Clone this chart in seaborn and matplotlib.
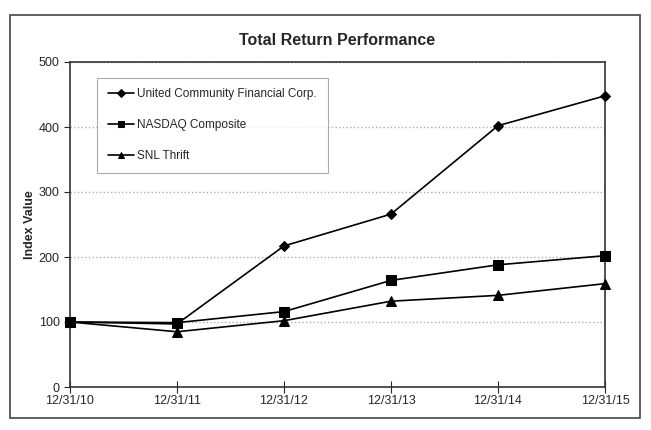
import matplotlib
matplotlib.use("Agg")
import matplotlib.pyplot as plt
import seaborn as sns
import pandas as pd
from matplotlib.patches import Rectangle

dates = ["12/31/10", "12/31/11", "12/31/12", "12/31/13", "12/31/14", "12/31/15"]
ucfc = [100, 97, 217, 266, 402, 448]
nasdaq = [100, 99, 116, 164, 188, 202]
snl = [100, 85, 102, 132, 141, 159]

names = ["United Community Financial Corp.", "NASDAQ Composite", "SNL Thrift"]
markers = ["D", "s", "^"]
sizes = [5, 7, 7]

df = pd.DataFrame({"date": dates * 3,
                   "value": ucfc + nasdaq + snl,
                   "series": [n for n in names for _ in dates]})
df["x"] = list(range(len(dates))) * 3

sns.set_style("white")
plt.rcParams["font.family"] = ["Liberation Sans", "DejaVu Sans"]

fig = plt.figure(figsize=(6.51, 4.30), dpi=100)
ax = fig.add_axes([70 / 651, 43 / 430, 535 / 651, 325 / 430])

for name, m, s in zip(names, markers, sizes):
    sub = df[df["series"] == name]
    sns.lineplot(data=sub, x="x", y="value", ax=ax, color="black", lw=1.2,
                 marker=m, markersize=s, markeredgecolor="black", label=name,
                 clip_on=False, zorder=3)

ax.set_xlim(0, 5)
ax.set_ylim(0, 500)
ax.set_xticks(range(len(dates)))
ax.set_xticklabels(dates, fontsize=9)
ax.set_yticks(range(0, 501, 100))
ax.tick_params(axis="y", labelsize=9, length=4, direction="out", left=True, width=0.8)
ax.tick_params(axis="x", length=8, direction="inout", bottom=True, width=0.8, pad=2)
ax.yaxis.grid(True, color="#b0b0b0", linestyle=":", linewidth=1)
ax.set_axisbelow(True)
for sp in ax.spines.values():
    sp.set_color("#333333")
    sp.set_linewidth(1.2)
ax.set_xlabel("")
ax.set_ylabel("Index Value", fontsize=9, fontweight="bold", labelpad=2)
ax.set_title("Total Return Performance", fontsize=11.5, fontweight="bold", pad=12)

leg = ax.legend(loc="upper left", bbox_to_anchor=(0.04, 0.97), fontsize=8.5,
                frameon=True, fancybox=False, edgecolor="#999999",
                handlelength=2.2, labelspacing=1.6, borderpad=0.9, handletextpad=0.3)
leg.get_frame().set_linewidth(0.8)
for h in leg.legend_handles:
    h.set_markersize(4.5)

fig.patches.append(Rectangle((10 / 651, 12 / 430), 630 / 651, 403 / 430,
                             transform=fig.transFigure, fill=False,
                             edgecolor="#444444", linewidth=1.2))

fig.savefig("out.png", dpi=100)
